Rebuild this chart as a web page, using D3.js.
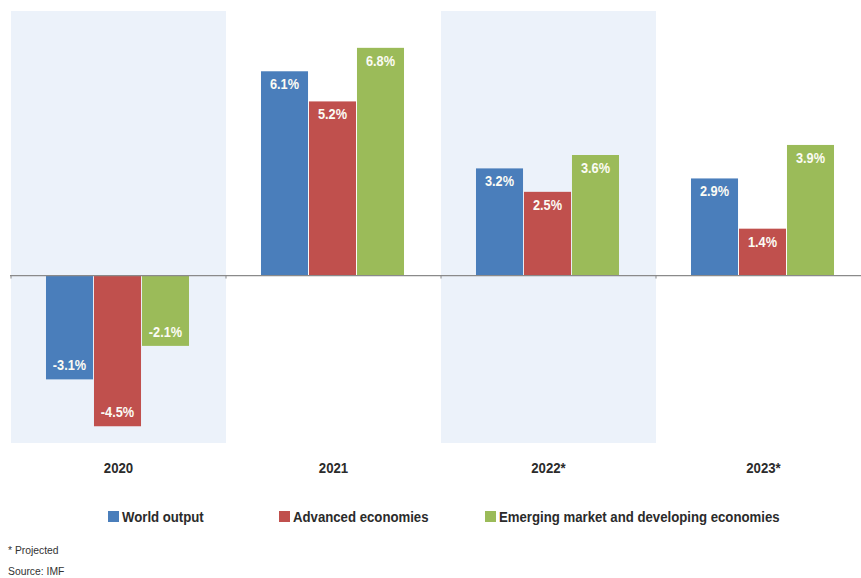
<!DOCTYPE html>
<html>
<head>
<meta charset="utf-8">
<script src="https://cdn.jsdelivr.net/npm/d3@7"></script>
<style>
  body { margin: 0; background: #fff; }
  svg { display: block; font-family: "Liberation Sans", Arial, sans-serif; }
</style>
</head>
<body>
<svg id="chart" width="861" height="578"></svg>
<script>
/* Data */
var years = ["2020", "2021", "2022*", "2023*"];
var seriesNames = ["World output", "Advanced economies", "Emerging market and developing economies"];
var worldOutput = [-3.1, 6.1, 3.2, 2.9];
var advancedEconomies = [-4.5, 5.2, 2.5, 1.4];
var emergingEconomies = [-2.1, 6.8, 3.6, 3.9];
var shadedYears = ["2020", "2022*"];
var seriesColors = ["#4a7ebb", "#c0504d", "#9bbb59"];
var footnotes = ["* Projected", "Source: IMF"];

var seriesValues = [worldOutput, advancedEconomies, emergingEconomies];

// narrow-ish look of the original font
var squeeze = 0.88;

var svg = d3.select("#chart");

var x = d3.scaleBand()
    .domain(years)
    .range([11, 871])
    .padding(0);

var xInner = d3.scaleBand()
    .domain(d3.range(seriesNames.length))
    .range([0, x.bandwidth()])
    .paddingInner(0.02)
    .paddingOuter(0.75);

var y = d3.scaleLinear()
    .domain([-5, 7.9])
    .range([443, 11]);

/* shaded bands */
svg.append("g")
    .selectAll("rect")
    .data(shadedYears)
    .enter().append("rect")
    .attr("x", function(d) { return x(d); })
    .attr("y", y(7.9))
    .attr("width", x.bandwidth())
    .attr("height", y(-5) - y(7.9))
    .attr("fill", "#ecf2fa");

/* bars */
var groups = svg.append("g")
    .selectAll("g")
    .data(years)
    .enter().append("g")
    .attr("transform", function(d) { return "translate(" + (x(d) - 1) + ",0)"; });

groups.each(function(year, i) {
    var g = d3.select(this);
    var rows = seriesValues.map(function(vals, s) { return {s: s, v: vals[i]}; });

    g.selectAll("rect")
        .data(rows)
        .enter().append("rect")
        .attr("x", function(d) { return xInner(d.s); })
        .attr("y", function(d) { return y(Math.max(0, d.v)); })
        .attr("width", xInner.bandwidth())
        .attr("height", function(d) { return Math.abs(y(d.v) - y(0)); })
        .attr("fill", function(d) { return seriesColors[d.s]; });

    g.selectAll("text")
        .data(rows)
        .enter().append("text")
        .attr("transform", function(d) {
            var tx = xInner(d.s) + xInner.bandwidth() / 2;
            var ty = d.v >= 0 ? y(d.v) + 18 : y(d.v) - 9;
            return "translate(" + tx + "," + ty + ") scale(" + squeeze + ",1)";
        })
        .attr("text-anchor", "middle")
        .attr("fill", "#fbfbf4")
        .attr("font-weight", "bold")
        .attr("font-size", "14.5px")
        .text(function(d) { return d.v.toFixed(1) + "%"; });
});

/* zero line with small ticks */
svg.append("line")
    .attr("x1", 10).attr("x2", 861)
    .attr("y1", y(0)).attr("y2", y(0))
    .attr("stroke", "#8a8a8a")
    .attr("stroke-width", 1.2);

svg.append("g")
    .selectAll("line")
    .data(years)
    .enter().append("line")
    .attr("x1", function(d) { return x(d); })
    .attr("x2", function(d) { return x(d); })
    .attr("y1", y(0)).attr("y2", y(0) + 3)
    .attr("stroke", "#8a8a8a");

/* category labels */
svg.append("g")
    .selectAll("text")
    .data(years)
    .enter().append("text")
    .attr("transform", function(d) {
        return "translate(" + (x(d) + x.bandwidth() / 2) + ",473) scale(" + squeeze + ",1)";
    })
    .attr("text-anchor", "middle")
    .attr("font-weight", "bold")
    .attr("font-size", "15px")
    .attr("fill", "#2b2b2b")
    .text(function(d) { return d; });

/* legend */
var legendX = [108, 279, 485];
var legend = svg.append("g")
    .selectAll("g")
    .data(seriesNames)
    .enter().append("g")
    .attr("transform", function(d, i) { return "translate(" + legendX[i] + ",511)"; });

legend.append("rect")
    .attr("width", 11).attr("height", 11)
    .attr("fill", function(d, i) { return seriesColors[i]; });

legend.append("text")
    .attr("transform", "translate(14,11) scale(" + squeeze + ",1)")
    .attr("font-weight", "bold")
    .attr("font-size", "15px")
    .attr("fill", "#2b2b2b")
    .text(function(d) { return d; });

/* footnotes */
svg.append("g")
    .selectAll("text")
    .data(footnotes)
    .enter().append("text")
    .attr("transform", function(d, i) { return "translate(8," + (554 + i * 21) + ") scale(0.9,1)"; })
    .attr("font-size", "11.5px")
    .attr("fill", "#333")
    .text(function(d) { return d; });
</script>
</body>
</html>
